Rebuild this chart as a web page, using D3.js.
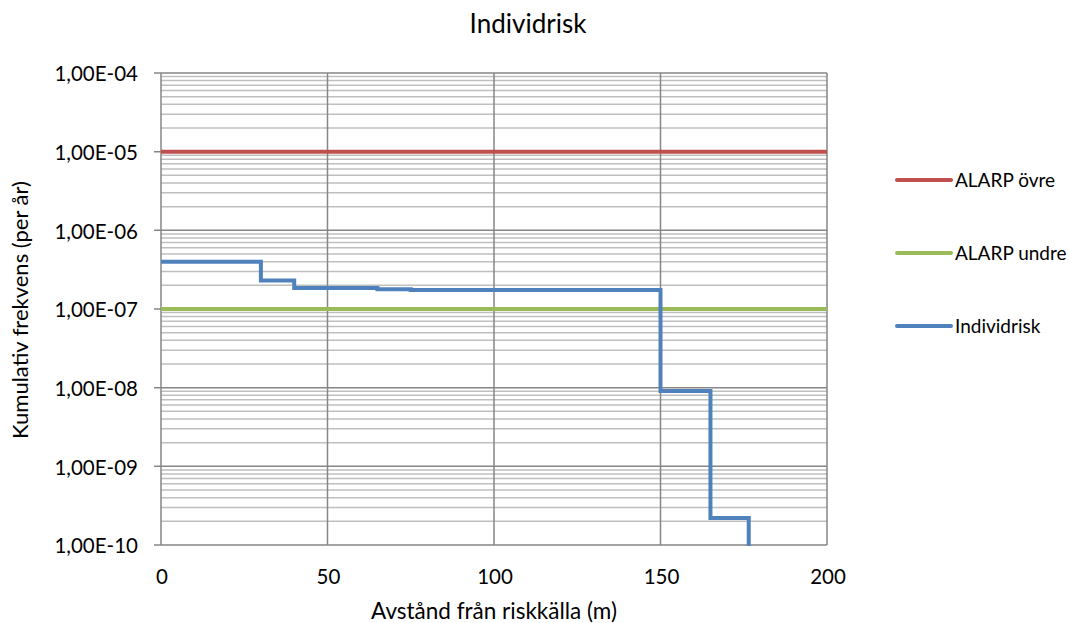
<!DOCTYPE html>
<html>
<head>
<meta charset="utf-8">
<script src="https://cdn.jsdelivr.net/npm/d3@7"></script>
<style>
  body { margin: 0; background: #fff; }
  text { font-family: Lato, "Open Sans", sans-serif; fill: #000; }
</style>
</head>
<body>
<div id="chart"></div>
<script>
var width = 1069;
var height = 623;
var margin = { top: 73, right: 242, bottom: 78, left: 161 };

// distance (m) and cumulative frequency (per year) for the step curve
var riskX = [0, 30, 40, 65, 75, 150, 165, 176.5];
var riskY = [4.0e-7, 2.3e-7, 1.85e-7, 1.78e-7, 1.74e-7, 9.1e-9, 2.2e-10, 1e-11];
var alarpUpper = 1e-5;
var alarpLower = 1e-7;
var xTicks = [0, 50, 100, 150, 200];
var yTicks = [1e-4, 1e-5, 1e-6, 1e-7, 1e-8, 1e-9, 1e-10];
var seriesNames = ["ALARP övre", "ALARP undre", "Individrisk"];
var colors = ["#C0504D", "#9BBB59", "#4F81BD"];

var svg = d3.select("#chart").append("svg")
  .attr("width", width)
  .attr("height", height);

var x = d3.scaleLinear().domain([0, 200]).range([margin.left, width - margin.right]);
var y = d3.scaleLog().domain([1e-10, 1e-4]).range([height - margin.bottom, margin.top]);

// minor grid
var minor = [];
for (var e = -10; e < -4; e++) {
  for (var m = 2; m <= 9; m++) minor.push(m * Math.pow(10, e));
}
svg.append("g").selectAll("line").data(minor).enter().append("line")
  .attr("x1", x(0)).attr("x2", x(200))
  .attr("y1", d => y(d)).attr("y2", d => y(d))
  .attr("stroke", "#bfbfbf").attr("stroke-width", 1.5);

// major grid
svg.append("g").selectAll("line").data(yTicks).enter().append("line")
  .attr("x1", x(0) - 7).attr("x2", x(200))
  .attr("y1", d => y(d)).attr("y2", d => y(d))
  .attr("stroke", "#868686").attr("stroke-width", 1.5);

svg.append("g").selectAll("line").data(xTicks).enter().append("line")
  .attr("x1", d => x(d)).attr("x2", d => x(d))
  .attr("y1", y(1e-4)).attr("y2", y(1e-10))
  .attr("stroke", "#868686").attr("stroke-width", 1.5);

// y tick labels
svg.append("g").selectAll("text").data(yTicks).enter().append("text")
  .attr("x", x(0) - 23)
  .attr("y", d => y(d) + 1)
  .attr("dy", "0.35em")
  .attr("text-anchor", "end")
  .attr("font-size", 20.5)
  .text(d => "1,00E-" + String(Math.round(-Math.log10(d))).padStart(2, "0"));

// x tick labels
svg.append("g").selectAll("text").data(xTicks).enter().append("text")
  .attr("x", d => x(d) + 1)
  .attr("y", y(1e-10) + 32)
  .attr("dy", "0.35em")
  .attr("text-anchor", "middle")
  .attr("font-size", 20.5)
  .text(d => d);

// series
svg.append("clipPath").attr("id", "plot")
  .append("rect")
  .attr("x", x(0)).attr("y", y(1e-4))
  .attr("width", x(200) - x(0)).attr("height", y(1e-10) - y(1e-4) + 1);

svg.append("line")
  .attr("x1", x(0)).attr("x2", x(200))
  .attr("y1", y(alarpUpper)).attr("y2", y(alarpUpper))
  .attr("stroke", colors[0]).attr("stroke-width", 4);

svg.append("line")
  .attr("x1", x(0)).attr("x2", x(200))
  .attr("y1", y(alarpLower)).attr("y2", y(alarpLower))
  .attr("stroke", colors[1]).attr("stroke-width", 4);

var pts = riskX.map((d, i) => [d, riskY[i]]);
var line = d3.line()
  .x(d => x(d[0]))
  .y(d => y(d[1]))
  .curve(d3.curveStepAfter);

svg.append("path")
  .datum(pts)
  .attr("clip-path", "url(#plot)")
  .attr("fill", "none")
  .attr("stroke", colors[2])
  .attr("stroke-width", 4)
  .attr("d", line);

// legend
var legend = svg.append("g").selectAll("g").data(seriesNames).enter().append("g")
  .attr("transform", (d, i) => "translate(897," + (180 + i * 73) + ")");
legend.append("line")
  .attr("x1", 0).attr("x2", 54)
  .attr("stroke", (d, i) => colors[i])
  .attr("stroke-width", 4)
  .attr("stroke-linecap", "round");
legend.append("text")
  .attr("x", 58)
  .attr("dy", "0.35em")
  .attr("font-size", 19)
  .text(d => d);

// titles
svg.append("text")
  .attr("x", 528).attr("y", 33)
  .attr("text-anchor", "middle")
  .attr("font-size", 26)
  .text("Individrisk");

svg.append("text")
  .attr("x", (x(0) + x(200)) / 2).attr("y", 619)
  .attr("text-anchor", "middle")
  .attr("font-size", 22.5)
  .text("Avstånd från riskkälla (m)");

svg.append("text")
  .attr("transform", "translate(28,310) rotate(-90)")
  .attr("text-anchor", "middle")
  .attr("font-size", 22)
  .text("Kumulativ frekvens (per år)");
</script>
</body>
</html>
